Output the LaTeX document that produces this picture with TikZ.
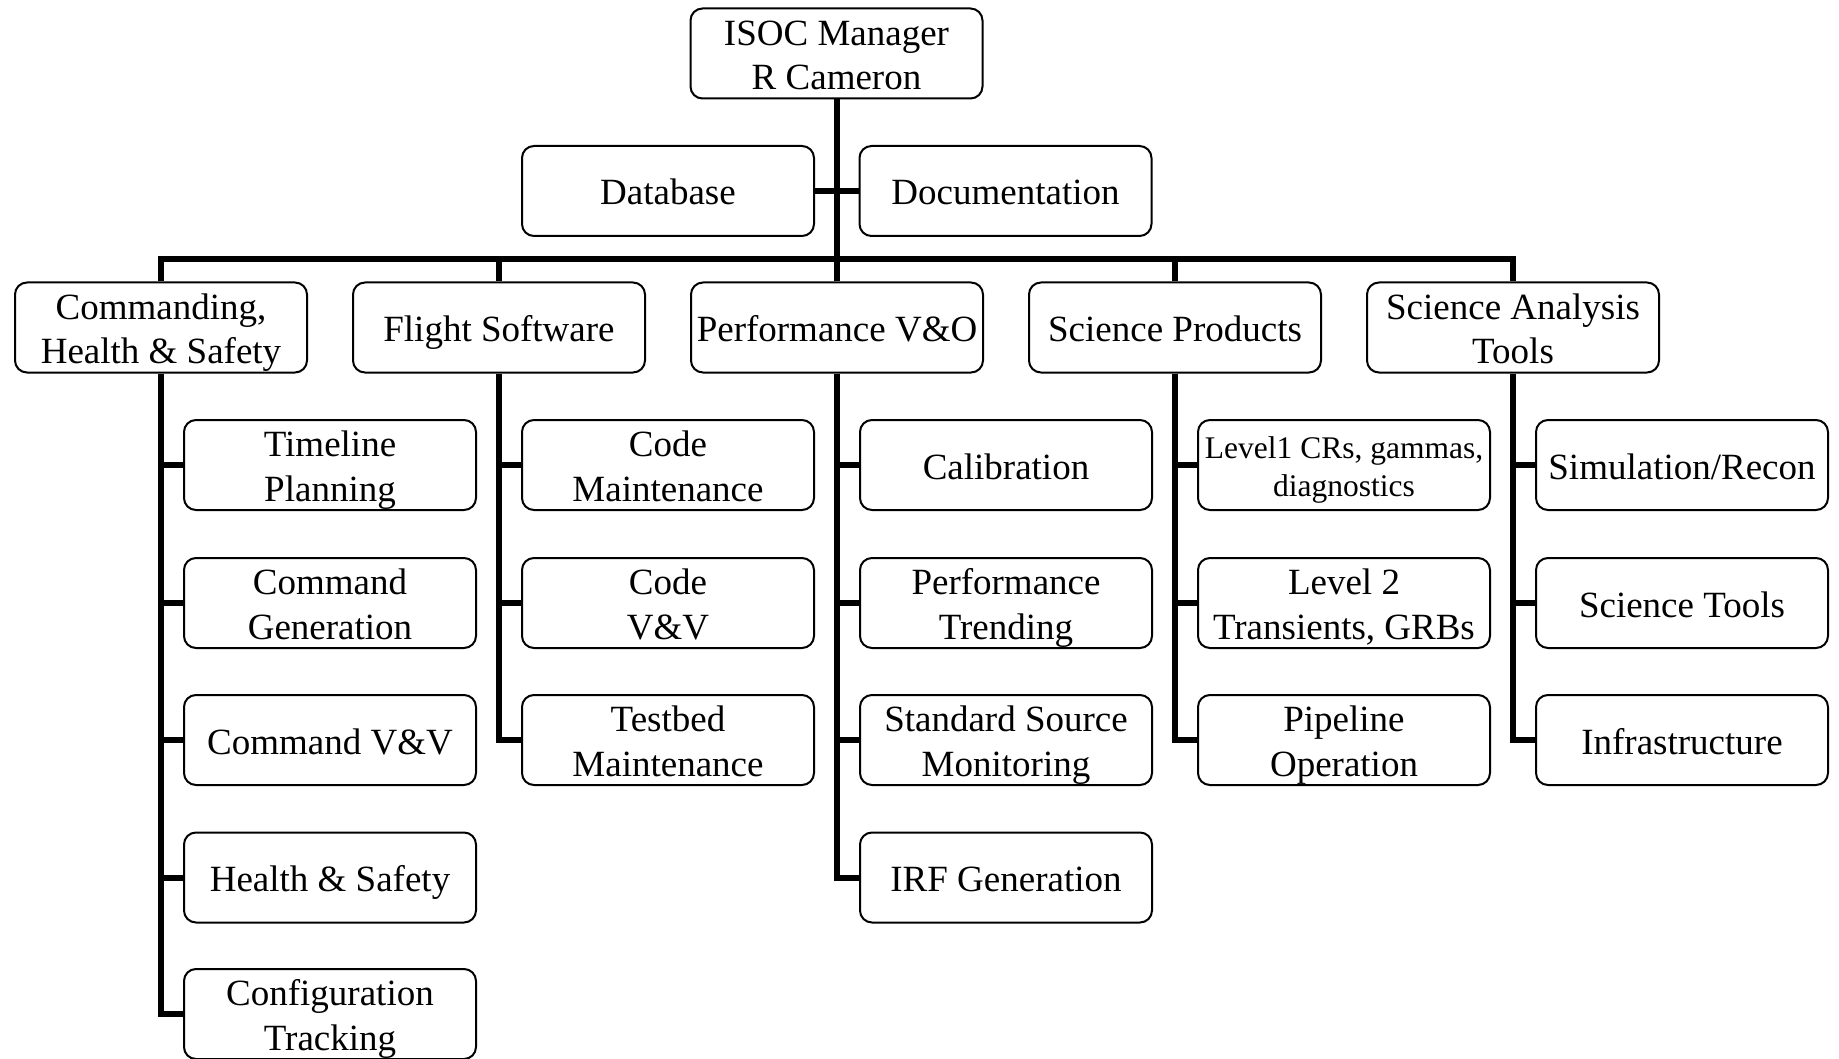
\documentclass[tikz,border=0pt]{standalone}
\usepackage{fontspec}
\setmainfont{Liberation Serif}
% struts that fix the baseline inside each box
\newcommand\linestrut{\rule[-8.25pt]{0pt}{44.5pt}}
\newcommand\smallstrut{\rule[-7pt]{0pt}{38.5pt}}
\newcommand\twolines[2]{\linestrut#1\\#2\linestrut}
\newcommand\twosmall[2]{\smallstrut#1\\#2\smallstrut}
\begin{document}
\begin{tikzpicture}[x=1pt,y=-1pt,
  unit/.style={draw, line width=2pt, rounded corners=12pt, fill=white,
    minimum width=292pt, minimum height=90pt, inner sep=0pt,
    align=center, font=\fontsize{37}{44.5}\selectfont},
  smalltext/.style={font=\fontsize{31.5}{38.5}\selectfont},
  link/.style={line width=6pt, line join=miter}
]
\useasboundingbox (0,0) rectangle (1839,1059);

% top of the chart
\node[unit] (isoc) at (836.5,53.5) {\twolines{ISOC Manager}{R Cameron}};
\node[unit] (db)   at (668,191)    {\linestrut Database};
\node[unit] (doc)  at (1005.5,191) {\linestrut Documentation};

% groups
\node[unit] (cmd)  at (161,327.5)  {\twolines{Commanding,}{Health \& Safety}};
\node[unit] (fsw)  at (499,327.5)  {\linestrut Flight Software};
\node[unit] (perf) at (837,327.5)  {\linestrut Performance V\&O};
\node[unit] (sci)  at (1175,327.5) {\linestrut Science Products};
\node[unit] (sat)  at (1513,327.5) {\twolines{Science Analysis}{Tools}};

% Commanding, Health & Safety
\node[unit] (cmd1) at (330,465)    {\twolines{Timeline}{Planning}};
\node[unit] (cmd2) at (330,603)    {\twolines{Command}{Generation}};
\node[unit] (cmd3) at (330,740)    {\linestrut Command V\&V};
\node[unit] (cmd4) at (330,877.5)  {\linestrut Health \& Safety};
\node[unit] (cmd5) at (330,1014)   {\twolines{Configuration}{Tracking}};

% Flight Software
\node[unit] (fsw1) at (668,465)    {\twolines{Code}{Maintenance}};
\node[unit] (fsw2) at (668,603)    {\twolines{Code}{V\&V}};
\node[unit] (fsw3) at (668,740)    {\twolines{Testbed}{Maintenance}};

% Performance V&O
\node[unit] (perf1) at (1006,465)   {\linestrut Calibration};
\node[unit] (perf2) at (1006,603)   {\twolines{Performance}{Trending}};
\node[unit] (perf3) at (1006,740)   {\twolines{Standard Source}{Monitoring}};
\node[unit] (perf4) at (1006,877.5) {\linestrut IRF Generation};

% Science Products
\node[unit,smalltext] (sci1) at (1344,465) {\twosmall{Level1 CRs, gammas,}{diagnostics}};
\node[unit] (sci2) at (1344,603)   {\twolines{Level 2}{Transients, GRBs}};
\node[unit] (sci3) at (1344,740)   {\twolines{Pipeline}{Operation}};

% Science Analysis Tools
\node[unit] (sat1) at (1682,465)   {\linestrut Simulation/Recon};
\node[unit] (sat2) at (1682,603)   {\linestrut Science Tools};
\node[unit] (sat3) at (1682,740)   {\linestrut Infrastructure};

% bus under the manager
\coordinate (bus) at (836.5,259);
\draw[link] (isoc.south) -- (bus);
\draw[link] (db.east) -- (doc.west);
\draw[link] (cmd.north) |- (bus) -| (sat.north);
\draw[link] (fsw.north) -- (fsw.north |- bus);
\draw[link] (perf.north) -- (perf.north |- bus);
\draw[link] (sci.north) -- (sci.north |- bus);

% branches to the units of each group
\draw[link] (cmd.south) |- (cmd5.west);
\foreach \c in {cmd1,cmd2,cmd3,cmd4}
  \draw[link] (cmd.south |- \c.west) -- (\c.west);
\draw[link] (fsw.south) |- (fsw3.west);
\foreach \c in {fsw1,fsw2}
  \draw[link] (fsw.south |- \c.west) -- (\c.west);
\draw[link] (perf.south) |- (perf4.west);
\foreach \c in {perf1,perf2,perf3}
  \draw[link] (perf.south |- \c.west) -- (\c.west);
\draw[link] (sci.south) |- (sci3.west);
\foreach \c in {sci1,sci2}
  \draw[link] (sci.south |- \c.west) -- (\c.west);
\draw[link] (sat.south) |- (sat3.west);
\foreach \c in {sat1,sat2}
  \draw[link] (sat.south |- \c.west) -- (\c.west);
\end{tikzpicture}
\end{document}
